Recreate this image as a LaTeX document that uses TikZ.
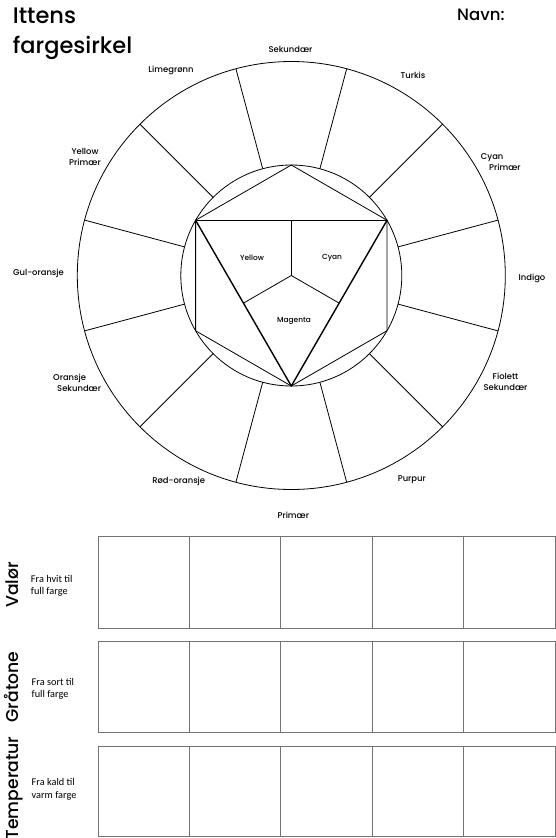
\documentclass[tikz,border=0pt]{standalone}
\usepackage{fontspec}
\setmainfont{Poppins}[UprightFont=* Medium]
\newfontfamily\notefont{Carlito}
\usetikzlibrary{calc}
\begin{document}
\begin{tikzpicture}[x=1pt,y=-1pt,
  ring/.style={line width=0.8pt, black},
  tri/.style={line width=1.4pt, black, line join=round, line cap=round},
  cell/.style={line width=1pt, black!55},
  lbl/.style={font=\fontsize{8.4}{11}\selectfont, inner sep=0pt},
  inlbl/.style={font=\fontsize{7.4}{9}\selectfont, inner sep=0pt},
  ttl/.style={font=\fontsize{22.5}{27}\selectfont, inner sep=0pt, anchor=base west},
  side/.style={font=\fontsize{17.2}{20}\selectfont, inner sep=0pt, rotate=90, anchor=base},
  note/.style={font=\notefont\fontsize{10.3}{12.6}\selectfont, inner sep=0pt, align=left, anchor=west}]
\useasboundingbox (0,0) rectangle (556,838);
\fill[white] (0,0) rectangle (556,838);

% colour wheel
\coordinate (C) at (291.3,275.5);
\draw[ring] (C) circle[radius=214];
\draw[ring] (C) circle[radius=110.5];
\foreach \a in {15,45,...,345}{\draw[ring] ($(C)+(\a:110.5)$) -- ($(C)+(\a:214)$);}

% hexagon and triangle
\coordinate (hT) at (291.3,165);
\coordinate (hUL) at (195.6,220.25);
\coordinate (hUR) at (387.0,220.25);
\coordinate (hLL) at (195.6,330.75);
\coordinate (hLR) at (387.0,330.75);
\coordinate (hB) at (291.3,386);
\draw[ring, line join=round] (hT) -- (hUR) -- (hLR) -- (hB) -- (hLL) -- (hUL) -- cycle;
\draw[ring] (hUL) -- (hUR);
\draw[tri] (hUL) -- (hB) -- (hUR);
\draw[ring] (C) -- ($(hUL)!0.5!(hUR)$);
\draw[ring] (C) -- ($(hUL)!0.5!(hB)$);
\draw[ring] (C) -- ($(hUR)!0.5!(hB)$);

\node[inlbl] (iy) at (252,258) {Yellow};
\node[inlbl] (ic) at (332,258) {Cyan};
\node[inlbl] (im) at (294,321) {Magenta};

% outer labels
\node[lbl] (sek) at (290.5,49) {Sekundær};
\node[lbl] (tur) at (413,75) {Turkis};
\node[lbl] (lime) at (171,70) {Limegrønn};
\node[lbl, align=left, anchor=west] (cyan) at (480.7,162.2) {Cyan\\\hspace*{8.3pt}Primær};
\node[lbl, align=center] (yel) at (85,157) {Yellow\\Primær};
\node[lbl] (gul) at (38.5,273) {Gul-oransje};
\node[lbl] (ind) at (532,278.3) {Indigo};
\node[lbl, align=left, anchor=west] (ora) at (53,383) {Oransje\\\hspace*{4pt}Sekundær};
\node[lbl, align=center] (fio) at (505.5,381.7) {Fiolett\\Sekundær};
\node[lbl] (rod) at (178.7,481) {Rød-oransje};
\node[lbl] (pur) at (411.8,479.3) {Purpur};
\node[lbl] (pri) at (293.3,515.7) {Primær};

% title
\node[ttl] (t1) at (12.7,23.3) {Ittens};
\node[ttl] (t2) at (12.7,53) {fargesirkel};
\node[font=\fontsize{16.5}{20}\selectfont, inner sep=0pt, anchor=base west] (navn) at (457,20.7) {Navn:};

% scales
\node[side] (valor) at (18.3,585) {Valør};
\node[side] (gra) at (18.3,687) {Gråtone};
\node[side] (temp) at (18.3,788) {Temperatur};
\node[note] (n1) at (30.7,585.8) {Fra hvit til\\full farge};
\node[note] (n2) at (31.5,688.7) {Fra sort til\\full farge};
\node[note] (n3) at (31.5,789.2) {Fra kald til\\varm farge};

\foreach \t/\b in {536.7/628.3, 641/732.7, 746/836.7}{
  \draw[cell] (98,\t) rectangle (555,\b);
  \foreach \i in {1,...,4}{\draw[cell] (98+91.4*\i,\t) -- (98+91.4*\i,\b);}
}
\end{tikzpicture}
\end{document}
